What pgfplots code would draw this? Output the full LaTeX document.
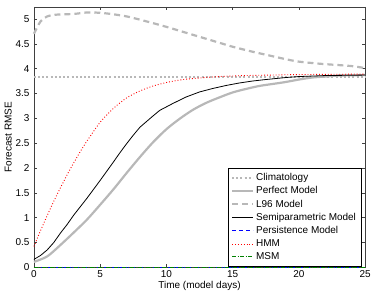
\documentclass[border=0pt]{standalone}
\usepackage{fontspec}
\setmainfont{Liberation Sans}
\usepackage{pgfplots}
\pgfplotsset{compat=1.18}
\definecolor{lgray}{rgb}{0.72,0.72,0.72}
\definecolor{mgreen}{rgb}{0,0.5,0}
\begin{document}
\begin{tikzpicture}
\begin{axis}[
  scale only axis, width=332pt, height=261pt,
  xmin=0, xmax=25, ymin=0, ymax=5.24,
  clip=false,
  xtick={0,5,...,25}, ytick={0,0.5,...,5},
  tick align=inside, ticks=major, major tick length=3pt,
  axis line style={black!75, line width=0.6pt},
  every tick/.style={black!75, line width=0.5pt},
  tick label style={font=\fontsize{10}{12}\selectfont},
  label style={font=\fontsize{10}{12}\selectfont},
  /pgf/number format/assume math mode=true,
  yticklabel style={xshift=-1pt},
  xlabel={Time (model days)}, ylabel={Forecast RMSE},
  xlabel style={yshift=4pt}, ylabel style={yshift=-3pt},
  legend style={at={(1,0)}, anchor=south east, xshift=-4pt, yshift=1pt,
    font=\fontsize{10}{12}\selectfont,
    row sep=0.6pt, inner ysep=3pt, cells={anchor=west}},
  legend image code/.code={\draw[#1] (0pt,0pt) -- (21pt,0pt);},
]
\addplot[lgray, line width=2pt, dash pattern=on 2pt off 2.2pt] coordinates {(0,3.83) (25,3.83)};
\addlegendentry{Climatology}
\addplot[lgray, line width=2.2pt, smooth] coordinates {
(0,0.11) (1,0.22) (2,0.45) (3,0.70) (4,0.96) (5,1.26) (6,1.57) (7,1.90) (8,2.22) (9,2.52)
(10,2.78) (11,2.99) (12,3.17) (13,3.31) (14,3.42) (15,3.52) (16,3.59) (17,3.65) (18,3.69)
(19,3.73) (20,3.78) (21,3.82) (22,3.84) (23,3.86) (25,3.87)};
\addlegendentry{Perfect Model}
\addplot[lgray, line width=2.2pt, dash pattern=on 6pt off 4pt, smooth] coordinates {
(0,4.70) (0.5,4.95) (1,5.05) (1.5,5.08) (2,5.09) (3,5.10) (4,5.13) (4.5,5.13) (5.5,5.11) (7,5.05)
(8.5,4.95) (10,4.84) (11.5,4.72) (12.5,4.64) (14,4.52) (15,4.44) (16.5,4.34) (17.5,4.28) (19,4.19)
(20,4.14) (21.5,4.10) (22.5,4.08) (24,4.05) (25,4.01)};
\addlegendentry{L96 Model}
\addplot[black, line width=0.8pt] coordinates {
(0,0.16) (0.5,0.24) (1,0.35) (1.5,0.50) (2,0.69) (2.5,0.86) (3,1.05) (3.5,1.22) (4,1.39) (5,1.75) (6,2.12)
(6.5,2.31) (7,2.49) (7.5,2.66) (8,2.82) (9,3.05) (9.5,3.16) (10.5,3.30) (11.5,3.43) (12.5,3.53) (13.5,3.60)
(14.5,3.66) (15.5,3.71) (16.5,3.75) (17.5,3.78) (19,3.82) (20,3.84) (22,3.86) (25,3.87)};
\addlegendentry{Semiparametric Model}
\addplot[blue, line width=1pt, dash pattern=on 4pt off 3pt] coordinates {(0,0) (25,0)};
\addlegendentry{Persistence Model}
\addplot[red, line width=0.9pt, dotted, smooth] coordinates {
(0,0.42) (0.5,0.74) (1,1.04) (1.5,1.33) (2,1.60) (2.5,1.86) (3,2.10) (3.5,2.33) (4,2.54) (5,2.92)
(6,3.20) (7,3.41) (8,3.55) (9,3.65) (10,3.72) (11,3.77) (12,3.80) (14,3.84) (16,3.86) (18,3.87)
(20,3.88) (25,3.89)};
\addlegendentry{HMM}
\addplot[mgreen, line width=1pt, dash pattern=on 4pt off 1.5pt on 1pt off 1.5pt] coordinates {(0,0) (25,0)};
\addlegendentry{MSM}
\end{axis}
\path ([shift={(-34pt,-27pt)}]current axis.south west) rectangle ([shift={(8pt,7pt)}]current axis.north east);
\end{tikzpicture}
\end{document}
